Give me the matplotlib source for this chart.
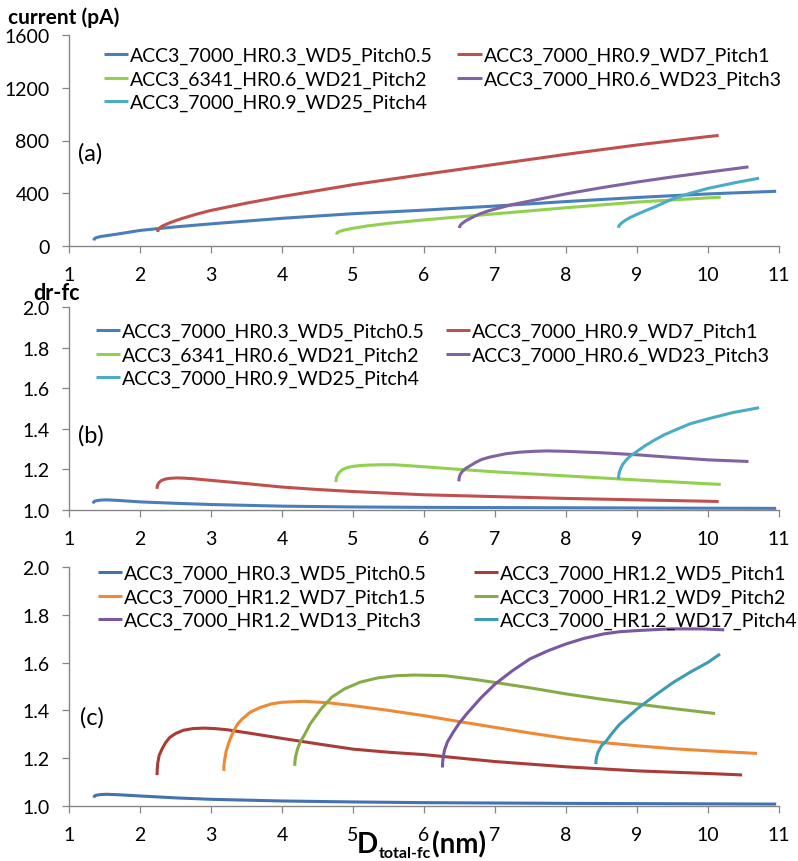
import matplotlib
matplotlib.use("Agg")
import matplotlib.pyplot as plt

plt.rcParams['font.family'] = ['Lato', 'DejaVu Sans']

W, H = 798, 862
fig = plt.figure(figsize=(W/100, H/100), dpi=100)

# ---------------- data ----------------
x_ticks = [1, 2, 3, 4, 5, 6, 7, 8, 9, 10, 11]

a_labels = ["ACC3_7000_HR0.3_WD5_Pitch0.5", "ACC3_7000_HR0.9_WD7_Pitch1",
            "ACC3_6341_HR0.6_WD21_Pitch2", "ACC3_7000_HR0.6_WD23_Pitch3",
            "ACC3_7000_HR0.9_WD25_Pitch4"]
a_colors = ["#4A7EBB", "#C0504D", "#92D050", "#8064A2", "#4BACC6"]

# panel (a): current (pA)
a1_x = [1.35, 1.355, 1.37, 1.40, 1.45, 1.55, 1.7, 2.0, 2.5, 3.0, 4.0, 5.0, 6.0, 7.0,
        8.0, 9.0, 10.0, 10.96]
a1_y = [42, 52, 60, 66, 72, 80, 92, 118, 145, 168, 210, 245, 272, 303, 337, 368, 395, 415]
a2_x = [2.25, 2.252, 2.26, 2.28, 2.31, 2.35, 2.42, 2.5, 2.6, 2.8, 3.0, 3.5, 4.0, 5.0,
        6.0, 7.0, 8.0, 9.0, 10.0, 10.15]
a2_y = [106, 116, 126, 138, 150, 160, 176, 192, 210, 242, 270, 325, 375, 465, 543, 619,
        695, 766, 830, 838]
a3_x = [4.77, 4.772, 4.78, 4.80, 4.83, 4.87, 4.92, 5.02, 5.2, 5.5, 6.0, 7.0, 8.0, 9.0,
        10.0, 10.18]
a3_y = [86, 95, 102, 108, 114, 120, 126, 136, 152, 172, 198, 244, 290, 333, 365, 370]
a4_x = [6.50, 6.502, 6.51, 6.53, 6.56, 6.60, 6.65, 6.72, 6.8, 6.9, 7.0, 7.25, 7.5, 8.0,
        8.5, 9.0, 9.5, 10.0, 10.57]
a4_y = [136, 146, 156, 168, 180, 195, 208, 228, 246, 265, 280, 315, 342, 395, 442, 485,
        524, 560, 600]
a5_x = [8.74, 8.742, 8.75, 8.77, 8.80, 8.85, 8.90, 9.0, 9.12, 9.25, 9.5, 9.75, 10.0,
        10.4, 10.72]
a5_y = [138, 148, 157, 168, 182, 200, 215, 240, 268, 296, 357, 400, 437, 482, 514]

# panel (b): dr-fc
b1_x = [1.34, 1.345, 1.36, 1.39, 1.45, 1.53, 1.7, 2.0, 2.5, 3.0, 4.0, 5.0, 6.0, 8.0, 10.96]
b1_y = [1.032, 1.038, 1.043, 1.046, 1.049, 1.050, 1.047, 1.040, 1.033, 1.027, 1.019,
        1.015, 1.013, 1.011, 1.008]
b2_x = [2.24, 2.242, 2.25, 2.27, 2.30, 2.35, 2.42, 2.52, 2.62, 2.75, 3.0, 3.5, 4.0, 4.5,
        5.0, 6.0, 7.0, 8.0, 9.0, 10.15]
b2_y = [1.104, 1.115, 1.125, 1.136, 1.145, 1.152, 1.156, 1.158, 1.157, 1.154, 1.146,
        1.130, 1.113, 1.101, 1.091, 1.075, 1.066, 1.057, 1.050, 1.042]
b3_x = [4.76, 4.762, 4.77, 4.79, 4.82, 4.86, 4.92, 5.0, 5.1, 5.2, 5.4, 5.58, 6.0, 6.5,
        7.0, 8.0, 9.0, 10.0, 10.18]
b3_y = [1.138, 1.150, 1.162, 1.177, 1.190, 1.201, 1.209, 1.215, 1.219, 1.221, 1.223,
        1.223, 1.213, 1.200, 1.188, 1.168, 1.148, 1.129, 1.126]
b4_x = [6.49, 6.495, 6.51, 6.54, 6.58, 6.65, 6.73, 6.82, 6.92, 7.0, 7.15, 7.35, 7.55,
        7.73, 8.0, 8.5, 9.0, 9.5, 10.0, 10.57]
b4_y = [1.141, 1.158, 1.175, 1.190, 1.203, 1.218, 1.235, 1.250, 1.260, 1.266, 1.277,
        1.285, 1.289, 1.291, 1.289, 1.282, 1.272, 1.259, 1.247, 1.239]
b5_x = [8.74, 8.742, 8.75, 8.77, 8.80, 8.85, 8.90, 9.0, 9.12, 9.25, 9.38, 9.51, 9.75,
        10.0, 10.35, 10.72]
b5_y = [1.151, 1.168, 1.185, 1.205, 1.225, 1.247, 1.264, 1.289, 1.318, 1.345, 1.370,
        1.390, 1.425, 1.449, 1.480, 1.504]

# panel (c): dr-fc
c_labels = ["ACC3_7000_HR0.3_WD5_Pitch0.5", "ACC3_7000_HR1.2_WD5_Pitch1",
            "ACC3_7000_HR1.2_WD7_Pitch1.5", "ACC3_7000_HR1.2_WD9_Pitch2",
            "ACC3_7000_HR1.2_WD13_Pitch3", "ACC3_7000_HR1.2_WD17_Pitch4"]
c_colors = ["#4472B0", "#A93B38", "#EE8A35", "#87AC47", "#7858A0", "#3D9BB5"]

c1_x = [1.35, 1.355, 1.37, 1.40, 1.45, 1.53, 1.7, 2.0, 2.5, 3.0, 4.0, 5.0, 6.0, 8.0, 10.96]
c1_y = [1.035, 1.040, 1.044, 1.046, 1.048, 1.049, 1.047, 1.042, 1.034, 1.028, 1.021,
        1.017, 1.014, 1.011, 1.008]
c2_x = [2.24, 2.242, 2.25, 2.27, 2.31, 2.36, 2.42, 2.5, 2.61, 2.75, 2.90, 3.05, 3.23,
        3.6, 4.0, 4.5, 5.0, 5.5, 6.0, 7.0, 8.0, 9.0, 10.0, 10.48]
c2_y = [1.129, 1.150, 1.180, 1.212, 1.238, 1.265, 1.287, 1.303, 1.317, 1.324, 1.326,
        1.324, 1.319, 1.302, 1.283, 1.260, 1.238, 1.225, 1.215, 1.186, 1.164, 1.147,
        1.136, 1.130]
c3_x = [3.18, 3.182, 3.19, 3.21, 3.24, 3.27, 3.32, 3.38, 3.44, 3.55, 3.70, 3.85, 4.0,
        4.31, 4.65, 5.0, 5.5, 6.0, 6.5, 7.0, 7.5, 8.0, 8.5, 9.0, 9.5, 10.0, 10.69]
c3_y = [1.147, 1.165, 1.190, 1.225, 1.255, 1.280, 1.315, 1.345, 1.364, 1.392, 1.413,
        1.427, 1.434, 1.438, 1.432, 1.420, 1.400, 1.378, 1.353, 1.329, 1.305, 1.283,
        1.266, 1.252, 1.240, 1.231, 1.220]
c4_x = [4.18, 4.182, 4.19, 4.22, 4.26, 4.31, 4.4, 4.55, 4.7, 4.88, 5.1, 5.35, 5.6, 5.87,
        6.3, 6.7, 7.0, 7.5, 8.0, 8.5, 9.0, 9.5, 10.1]
c4_y = [1.168, 1.185, 1.205, 1.240, 1.270, 1.294, 1.345, 1.406, 1.455, 1.490, 1.518,
        1.536, 1.545, 1.548, 1.545, 1.530, 1.517, 1.494, 1.469, 1.447, 1.427, 1.408, 1.387]
c5_x = [6.26, 6.262, 6.27, 6.29, 6.33, 6.41, 6.5, 6.60, 6.8, 7.0, 7.25, 7.49, 7.75, 8.0,
        8.25, 8.53, 8.75, 9.0, 9.46, 9.9, 10.23]
c5_y = [1.161, 1.180, 1.205, 1.235, 1.268, 1.308, 1.348, 1.385, 1.452, 1.510, 1.567,
        1.615, 1.650, 1.678, 1.701, 1.720, 1.729, 1.734, 1.741, 1.741, 1.737]
c6_x = [8.42, 8.422, 8.43, 8.45, 8.5, 8.57, 8.65, 8.75, 8.87, 9.0, 9.25, 9.51, 9.75,
        10.0, 10.17]
c6_y = [1.175, 1.188, 1.203, 1.225, 1.252, 1.273, 1.305, 1.340, 1.372, 1.406, 1.462,
        1.517, 1.560, 1.601, 1.636]

a_series = [(a1_x, a1_y), (a2_x, a2_y), (a3_x, a3_y), (a4_x, a4_y), (a5_x, a5_y)]
b_series = [(b1_x, b1_y), (b2_x, b2_y), (b3_x, b3_y), (b4_x, b4_y), (b5_x, b5_y)]
c_series = [(c1_x, c1_y), (c2_x, c2_y), (c3_x, c3_y), (c4_x, c4_y), (c5_x, c5_y),
            (c6_x, c6_y)]

a_yticks = [0, 400, 800, 1200, 1600]
a_yticklabels = ["0", "400", "800", "1200", "1600"]
bc_yticks = [1.0, 1.2, 1.4, 1.6, 1.8, 2.0]
bc_yticklabels = ["1.0", "1.2", "1.4", "1.6", "1.8", "2.0"]

# ---------------- layout helpers ----------------
def ax_px(left, top, right, bottom):
    return fig.add_axes([left / W, 1 - bottom / H, (right - left) / W, (bottom - top) / H])

GRAY = "#868686"
TICK_FS = 14
LEG_FS = 14
LW = 2.2


def style(ax, yticks, ylabels, ylim):
    ax.set_xlim(1, 11)
    ax.set_ylim(*ylim)
    ax.set_xticks(x_ticks)
    ax.set_xticklabels([str(t) for t in x_ticks])
    ax.set_yticks(yticks)
    ax.set_yticklabels(ylabels)
    for s in ("top", "right"):
        ax.spines[s].set_visible(False)
    for s in ("left", "bottom"):
        ax.spines[s].set_color(GRAY)
        ax.spines[s].set_linewidth(1.0)
    ax.tick_params(axis="both", direction="out", length=5, width=0.9, color=GRAY,
                   labelsize=TICK_FS, labelcolor="black")
    ax.tick_params(axis="x", pad=9.5)
    ax.tick_params(axis="y", pad=9)
    ax.patch.set_alpha(0)


def draw(ax, series, colors, labels, legend_xy, colspacing):
    handles = []
    for (xs, ys), col, lab in zip(series, colors, labels):
        h, = ax.plot(xs, ys, color=col, lw=LW, solid_capstyle="butt",
                     solid_joinstyle="round", label=lab)
        handles.append(h)
    n = len(handles)
    order = list(range(0, n, 2)) + list(range(1, n, 2))
    leg = ax.legend([handles[i] for i in order], [labels[i] for i in order],
                    ncol=2, frameon=False, fontsize=LEG_FS, handlelength=1.25,
                    handletextpad=0.1, columnspacing=colspacing, labelspacing=0.32,
                    borderpad=0, borderaxespad=0, loc="upper left",
                    bbox_to_anchor=(legend_xy[0] / W, 1 - legend_xy[1] / H),
                    bbox_transform=fig.transFigure)
    return leg


# ---------------- panel (a) ----------------
ax_a = ax_px(69, 36, 779, 247)
style(ax_a, a_yticks, a_yticklabels, (0, 1600))
draw(ax_a, a_series, a_colors, a_labels, (104, 48), 1.25)

# ---------------- panel (b) ----------------
ax_b = ax_px(69, 308, 779, 511)
style(ax_b, bc_yticks, bc_yticklabels, (1.0, 2.0))
draw(ax_b, b_series, a_colors, a_labels, (96, 324), 1.05)

# ---------------- panel (c) ----------------
ax_c = ax_px(69, 568, 779, 807)
style(ax_c, bc_yticks, bc_yticklabels, (1.0, 2.0))
draw(ax_c, c_series, c_colors, c_labels, (98, 566), 2.4)

# ---------------- texts ----------------
def ftext(x, y, s, **kw):
    return fig.text(x / W, 1 - y / H, s, **kw)

ftext(8, 18, "current (pA)", fontsize=15, fontweight="bold", ha="left", va="center")
ftext(33, 293, "dr-fc", fontsize=15.5, fontweight="bold", ha="left", va="center")
ftext(78, 154, "(a)", fontsize=17, ha="left", va="center")
ftext(78, 436, "(b)", fontsize=17, ha="left", va="center")
ftext(80, 718, "(c)", fontsize=17, ha="left", va="center")

# x label: D_total-fc(nm)
renderer = fig.canvas.get_renderer()
t1 = ftext(357, 853, "D", fontsize=20, fontweight="bold", ha="left", va="baseline")
x1 = t1.get_window_extent(renderer).x1
t2 = fig.text(x1 / W + 0.5 / W, 1 - 858 / H, "total-fc", fontsize=11.5, fontweight="bold",
              ha="left", va="baseline")
x2 = t2.get_window_extent(renderer).x1
fig.text(x2 / W + 1.0 / W, 1 - 853 / H, "(nm)", fontsize=20, fontweight="bold",
         ha="left", va="baseline")

fig.savefig("out.png", dpi=100)
